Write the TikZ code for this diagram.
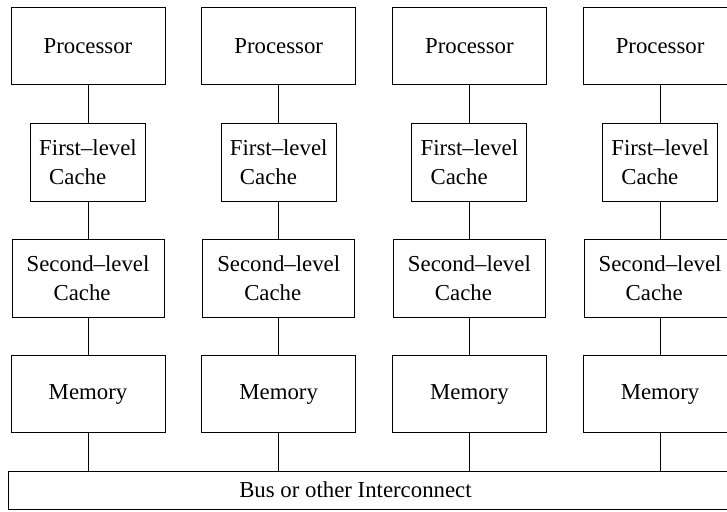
\documentclass[tikz,border=0pt]{standalone}
\usepackage{fontspec}
\setmainfont{Liberation Serif}
\tikzset{
  unitbox/.style={draw,line width=0.9pt,inner sep=0pt,align=left},
  link/.style={line width=0.9pt}
}
\begin{document}
\begin{tikzpicture}[x=1pt,y=-1pt,font=\fontsize{22.8}{29}\selectfont]
  \useasboundingbox (0,0) rectangle (727,511);
  % one column per processor
  \foreach \i in {1,...,4} {
    \pgfmathsetmacro{\cx}{88+190.7*(\i-1)}
    \node[unitbox,minimum width=154,minimum height=77] (proc\i) at (\cx,46) {Processor};
    \node[unitbox,minimum width=115,minimum height=78] (lone\i) at (\cx,162) {First--level\\\hspace*{10pt}Cache};
    \node[unitbox,minimum width=152,minimum height=78] (ltwo\i) at (\cx,278) {Second--level\\\hspace*{27pt}Cache};
    \node[unitbox,minimum width=154,minimum height=77] (mem\i) at (\cx,394) {Memory};
  }
  \node[unitbox,anchor=west,minimum width=752,minimum height=38,
        label={[xshift=-29pt]center:Bus or other Interconnect}] (bus) at (8,490) {};
  \foreach \i in {1,...,4} {
    \draw[link] (proc\i) -- (lone\i);
    \draw[link] (lone\i) -- (ltwo\i);
    \draw[link] (ltwo\i) -- (mem\i);
    \draw[link] (mem\i) -- (mem\i |- bus.north);
  }
\end{tikzpicture}
\end{document}
